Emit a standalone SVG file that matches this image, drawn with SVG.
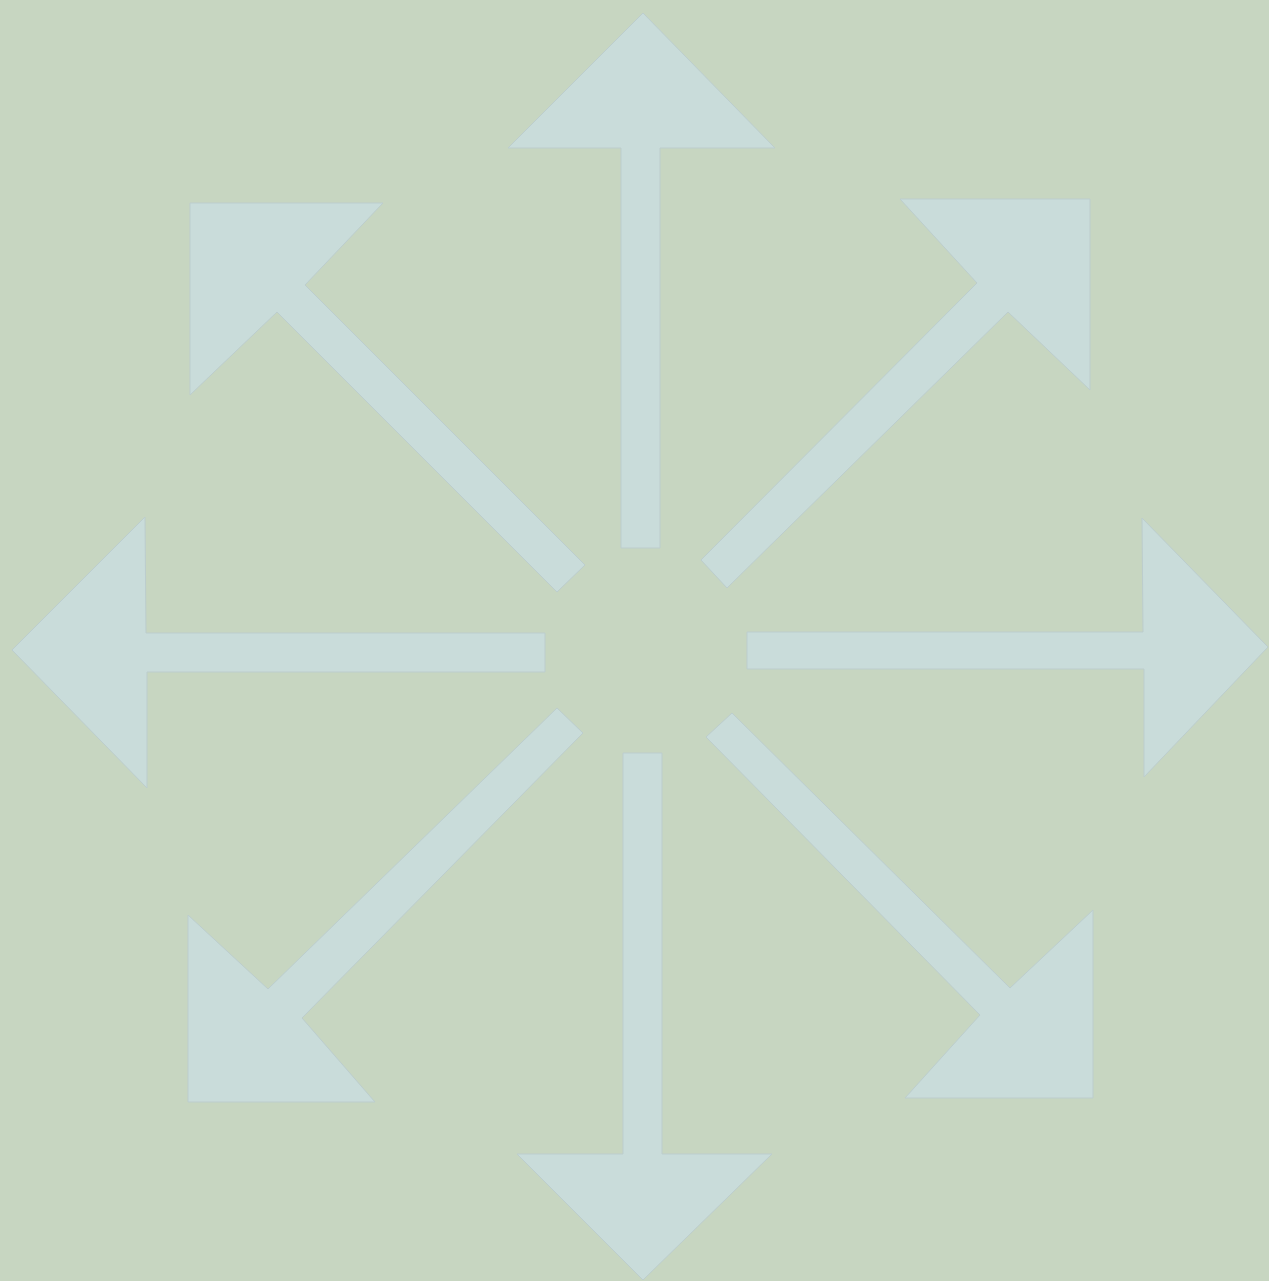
<svg xmlns="http://www.w3.org/2000/svg" width="1269" height="1281" viewBox="0 0 1269 1281">
<style>
.bg{fill:#c7d6c1}
.arrow{fill:#c9dcda;stroke:#bccdcd;stroke-width:1;stroke-linejoin:miter}
</style>
<rect class="bg" x="0" y="0" width="1269" height="1281"/>
<g id="connectors">
<g id="arrow-up"><polygon class="arrow" points="643,13 775,148 660,148 660,548 621,548 621,148 508,148"/></g>
<g id="arrow-right"><polygon class="arrow" points="1268,647 1144,777 1144,669 747,669 747,632 1143,632 1142,518"/></g>
<g id="arrow-left"><polygon class="arrow" points="12,650 145,517 146,633 545,633 545,672 147,672 147,788"/></g>
<g id="arrow-down"><polygon class="arrow" points="643,1280 517,1154 623,1154 623,753 662,753 662,1154 772,1154"/></g>
<g id="arrow-up-left"><polygon class="arrow" points="190,203 383,203 305,285 585,565 557,592 277,312 190,395"/></g>
<g id="arrow-up-right"><polygon class="arrow" points="900,199 1090,199 1090,390 1008,312 727,588 701,560 977,283"/></g>
<g id="arrow-down-left"><polygon class="arrow" points="188,915 268,989 557,708 583,733 302,1018 375,1102 188,1102"/></g>
<g id="arrow-down-right"><polygon class="arrow" points="1093,910 1093,1098 905,1098 980,1015 706,737 732,713 1010,988"/></g>
</g>
</svg>
